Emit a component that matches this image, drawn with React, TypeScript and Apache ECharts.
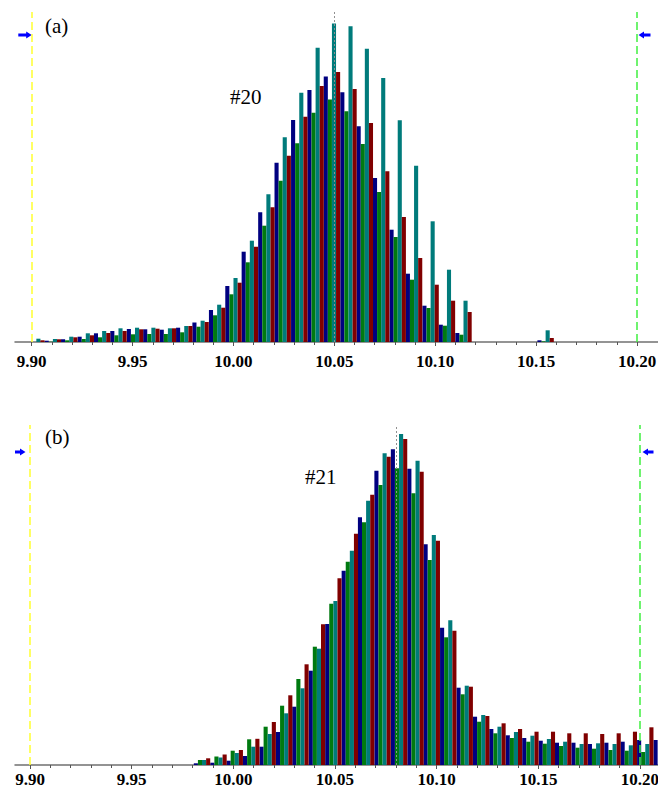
import React, { useEffect, useRef } from "react";
import * as echarts from "echarts";

const FONT = "Liberation Serif";

const panelLetters = ["(a)", "(b)"];
const sampleTags = ["#20", "#21"];
const majorTicks = [9.9, 9.95, 10.0, 10.05, 10.1, 10.15, 10.2];
const minorTicks = [
  9.9, 9.91, 9.92, 9.93, 9.94, 9.95, 9.96, 9.97, 9.98, 9.99, 10.0, 10.01, 10.02, 10.03, 10.04,
  10.05, 10.06, 10.07, 10.08, 10.09, 10.1, 10.11, 10.12, 10.13, 10.14, 10.15, 10.16, 10.17,
  10.18, 10.19, 10.2,
];
const seriesNames = ["Group 1", "Group 2", "Group 3", "Group 4"];
const seriesColors = ["#000080", "#007a10", "#007b7b", "#800000"];

// Panel (a) #20 — bin centres and counts
const binsA = [
  9.9023, 9.9105, 9.9186, 9.9268, 9.9349, 9.943, 9.9512, 9.9593, 9.9675, 9.9756, 9.9837, 9.9919,
  10.0, 10.0081, 10.0163, 10.0244, 10.0326, 10.0407, 10.0488, 10.057, 10.0651, 10.0732, 10.0814,
  10.0895, 10.0977, 10.1058, 10.114, 10.1221, 10.1302, 10.1384, 10.1465, 10.1547,
];
const navyA = [
  0, 1.3, 2.7, 5.3, 8.7, 11, 13, 12.7, 12.3, 14.3, 19.5, 32, 56, 90.3, 129.7, 179.3, 222, 252,
  265.5, 249.7, 215.7, 164, 112.3, 68.3, 36.3, 17.3, 9, 0, 0, 0, 0, 1.7,
];
const greenA = [
  0, 0.3, 1.7, 3, 4.7, 6.7, 7.7, 8, 8, 9.7, 15.3, 26.7, 47.7, 79.7, 116.3, 161.3, 198.7, 229.3,
  242.5, 230.7, 198, 150, 105, 62.3, 34, 16.3, 7.3, 0, 0, 0, 0, 0.7,
];
const tealA = [
  3.3, 3, 5.3, 8.7, 11, 13.7, 14.3, 14.3, 13.7, 16, 21.3, 37.3, 64, 101.3, 147.7, 204.7, 249.3,
  294.3, 318.5, 315.7, 293.3, 264, 221.7, 176.3, 120.7, 72.3, 41.3, 0, 0, 0, 0, 11.7,
];
const redA = [
  1.7, 2.7, 4.7, 6.7, 9, 11, 12.7, 13.3, 13.7, 16, 20, 34.3, 59.3, 95.3, 134.7, 186.3, 225.3, 256,
  270, 253, 219, 170.7, 125, 84, 57.3, 41.3, 30, 0, 0, 0, 0, 4,
];
const limitsA = [9.9003, 10.2001];
const peakA = 10.0488;

// Panel (b) #21 — bin centres and counts
const binsB = [
  9.9846, 9.9927, 10.0007, 10.0088, 10.0169, 10.025, 10.033, 10.0411, 10.0492, 10.0573, 10.0653,
  10.0734, 10.0815, 10.0896, 10.0976, 10.1057, 10.1138, 10.1219, 10.1299, 10.138, 10.1461,
  10.1542, 10.1622, 10.1703, 10.1784, 10.1865, 10.1945, 10.2026, 10.2107,
];
const navyB = [
  1.7, 2.3, 4.3, 9, 18.3, 33, 58.3, 94.3, 141, 194.3, 247.7, 294.3, 315.7, 296.3, 220.7, 137.3,
  77.3, 48.3, 36, 29.7, 27, 24.3, 22.3, 22.3, 21, 22.3, 23.3, 25, 25,
];
const greenB = [
  5, 8.5, 14.3, 25.7, 38.3, 59.3, 86, 118.3, 161.3, 203.3, 242.7, 280, 296.7, 271.7, 205, 127.7,
  70.7, 43.3, 31.7, 27, 23.3, 21.3, 19, 17.3, 16.3, 15, 14.3, 13, null,
];
const tealB = [
  5, 7.5, 12, 18.3, 31, 51.7, 76.7, 116.3, 164, 214.3, 264.3, 311.7, 331, 304.3, 230, 144.7, 79.3,
  50, 38.3, 33, 29.3, 26, 23.3, 21, 21.7, 21, 19.7, 21, null,
];
const redB = [
  6.7, 10.5, 15, 26.2, 43, 69.7, 100.7, 140.7, 186.7, 231.3, 270.3, 308.3, 326, 293.3, 224.3,
  134.3, 78.3, 49, 41.7, 36, 33.3, 33.3, 31.7, 31.7, 31, 31.7, 33.3, 37.7, null,
];
const limitsB = [9.8984, 10.2003];
const peakB = 10.0815;

function xAxesFor(gridIndex: number, min: number, max: number, labelMargin: number) {
  return [
    {
      type: "value",
      gridIndex,
      min,
      max,
      position: "bottom",
      axisLine: { show: true, onZero: false, lineStyle: { color: "#707070", width: 1.5 } },
      axisTick: {
        show: true,
        customValues: majorTicks,
        length: 4,
        lineStyle: { color: "#555", width: 1 },
      },
      axisLabel: {
        show: true,
        customValues: majorTicks,
        formatter: (v: number) => v.toFixed(2),
        margin: labelMargin,
        color: "#000",
        fontFamily: FONT,
        fontWeight: "bold",
        fontSize: 17,
      },
      splitLine: { show: false },
    },
    {
      type: "value",
      gridIndex,
      min,
      max,
      position: "bottom",
      offset: 0,
      axisLine: { show: false },
      axisTick: {
        show: true,
        customValues: minorTicks,
        length: 3,
        lineStyle: { color: "#555", width: 1 },
      },
      axisLabel: { show: false },
      splitLine: { show: false },
    },
  ];
}

function panelSeries(
  panel: number,
  bins: number[],
  groups: (number | null)[][],
  limits: number[],
  peak: number
) {
  const bars: any[] = groups.map((vals, s) => ({
    type: "bar",
    name: seriesNames[s],
    xAxisIndex: panel * 2,
    yAxisIndex: panel,
    barWidth: 4.1,
    barGap: "0%",
    silent: true,
    itemStyle: { color: seriesColors[s] },
    data: bins.map((b, i) => [b, vals[i]]),
  }));
  bars.push({
    type: "line",
    name: "limits",
    xAxisIndex: panel * 2,
    yAxisIndex: panel,
    data: [],
    silent: true,
    markLine: {
      silent: true,
      symbol: ["none", "none"],
      label: { show: false },
      z: 5,
      data: [
        { xAxis: limits[0], lineStyle: { color: "#ffff30", type: [8, 4], width: 1.5 } },
        { xAxis: limits[1], lineStyle: { color: "#40f040", type: [8, 4], width: 1.5 } },
        { xAxis: peak, lineStyle: { color: "#909090", type: [2, 2], width: 1 } },
      ],
    },
  });
  return bars;
}

function arrow(tipX: number, tailX: number, y: number) {
  const dir = tipX > tailX ? 1 : -1;
  const headBase = tipX - dir * 5.5;
  return {
    type: "polygon",
    silent: true,
    shape: {
      points: [
        [tailX, y - 1.5],
        [headBase, y - 1.5],
        [headBase, y - 3.5],
        [tipX, y],
        [headBase, y + 3.5],
        [headBase, y + 1.5],
        [tailX, y + 1.5],
      ],
    },
    style: { fill: "#0000ff" },
  };
}

function label(text: string, x: number, y: number) {
  return {
    type: "text",
    silent: true,
    x,
    y,
    style: {
      text,
      fontFamily: FONT,
      fontSize: 21,
      fill: "#000",
      align: "left",
      verticalAlign: "middle",
    },
  };
}

export default function App() {
  const ref = useRef<HTMLDivElement>(null);
  useEffect(() => {
    if (!ref.current) return;
    const chart = echarts.init(ref.current, undefined, { renderer: "svg" });
    const option: any = {
      animation: false,
      backgroundColor: "#ffffff",
      grid: [
        { left: 15, right: 0, top: 12, height: 330, containLabel: false, outerBoundsMode: "none" },
        { left: 15, right: 0, top: 425, height: 340, containLabel: false, outerBoundsMode: "none" },
      ],
      xAxis: [...xAxesFor(0, 9.89172, 10.2104, 10.5), ...xAxesFor(1, 9.89262, 10.20886, 6)],
      yAxis: [
        { type: "value", gridIndex: 0, min: 0, max: 330, show: false },
        { type: "value", gridIndex: 1, min: 0, max: 340, show: false },
      ],
      series: [
        ...panelSeries(0, binsA, [navyA, greenA, tealA, redA], limitsA, peakA),
        ...panelSeries(1, binsB, [navyB, greenB, tealB, redB], limitsB, peakB),
      ],
      graphic: [
        label(panelLetters[0], 45, 26),
        label(sampleTags[0], 230, 96.5),
        label(panelLetters[1], 45, 436.5),
        label(sampleTags[1], 305, 476.5),
        arrow(31.7, 18.3, 35),
        arrow(638.5, 650.5, 35),
        arrow(25.5, 15, 452),
        arrow(642.5, 653.5, 452),
      ],
    };
    chart.setOption(option);
    return () => chart.dispose();
  }, []);
  return (
    <div
      ref={ref}
      style={{ position: "absolute", left: 0, top: 0, width: 658, height: 789 }}
    />
  );
}
